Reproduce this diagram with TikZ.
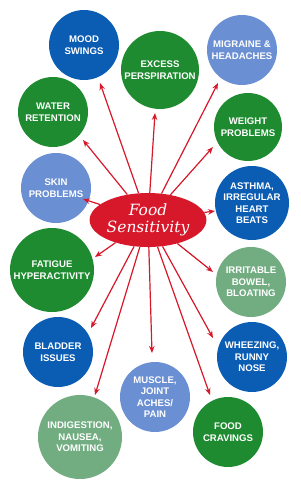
\documentclass[tikz,border=0pt]{standalone}
\usepackage{fontspec}
\setmainfont{Liberation Sans}
\usetikzlibrary{arrows.meta,shapes.geometric}
\definecolor{dblue}{HTML}{0B5DB4}
\definecolor{dgreen}{HTML}{1E8B30}
\definecolor{lblue}{HTML}{6A8FD2}
\definecolor{lgreen}{HTML}{72AD82}
\definecolor{fred}{HTML}{D7182A}
\newfontfamily\scriptfnt{DejaVu Serif}
\begin{document}
\begin{tikzpicture}[x=1pt,y=-1pt,
  bub/.style={circle,inner sep=0pt,minimum size=#1*2pt,text=white,align=center,
    font=\fontsize{9.6}{11.5}\selectfont\bfseries},
  arr/.style={draw=fred,line width=1.2pt,-{Stealth[length=7pt,width=5.5pt]}}]
\useasboundingbox[fill=white] (0,0) rectangle (300,490);
% circles
\node[bub=35,fill=dblue]  (mood)  at (84,45)  {MOOD\\SWINGS};
\node[bub=39,fill=dgreen] (exc)   at (160,70) {EXCESS\\PERSPIRATION};
\node[bub=35,fill=lblue]  (mig)   at (242,50) {MIGRAINE \&\\HEADACHES};
\node[bub=35,fill=dgreen] (wat)   at (53,112) {WATER\\RETENTION};
\node[bub=34,fill=dgreen] (wgt)   at (248,127) {WEIGHT\\PROBLEMS};
\node[bub=35,fill=lblue]  (skin)  at (56,188) {SKIN\\PROBLEMS};
\node[bub=37,fill=dblue]  (ast)   at (252,203) {ASTHMA,\\IRREGULAR\\HEART\\BEATS};
\node[bub=42,fill=dgreen] (fat)   at (52,270) {FATIGUE\\HYPERACTIVITY};
\node[bub=35,fill=lgreen] (ibs)   at (251,282) {IRRITABLE\\BOWEL,\\BLOATING};
\node[bub=35,fill=dblue]  (blad)  at (58,352) {BLADDER\\ISSUES};
\node[bub=35,fill=dblue]  (whz)   at (252,357) {WHEEZING,\\RUNNY\\NOSE};
\node[bub=35,fill=lblue]  (mus)   at (155,397) {MUSCLE,\\JOINT\\ACHES/\\PAIN};
\node[bub=42,fill=lgreen] (ind)   at (80,437) {INDIGESTION,\\NAUSEA,\\VOMITING};
\node[bub=35,fill=dgreen] (crav)  at (228,432) {FOOD\\CRAVINGS};
% arrow tips
\coordinate (tmood) at (100,83);
\coordinate (texc)  at (155,113);
\coordinate (tmig)  at (218,83);
\coordinate (twat)  at (83,140);
\coordinate (twgt)  at (213,147);
\coordinate (tskin) at (83,199);
\coordinate (tast)  at (215,211);
\coordinate (tfat)  at (95,257);
\coordinate (tibs)  at (213,272);
\coordinate (tblad) at (91,328);
\coordinate (tind)  at (95,395);
\coordinate (tmus)  at (152,353);
\coordinate (twhz)  at (213,338);
\coordinate (tcrav) at (210,395);
% centre
\node[ellipse,fill=fred,minimum width=97pt,minimum height=54pt,inner sep=0pt,
  text=white,align=center,font=\scriptfnt\itshape\fontsize{15.5}{17}\selectfont] (fs) at (148,220) {Food\\Sensitivity};
\foreach \t in {tmood,texc,tmig,twat,twgt,tskin,tast,tfat,tibs,tblad,tind,tmus,twhz,tcrav}
  \draw[arr] (fs) -- (\t);
\end{tikzpicture}
\end{document}
